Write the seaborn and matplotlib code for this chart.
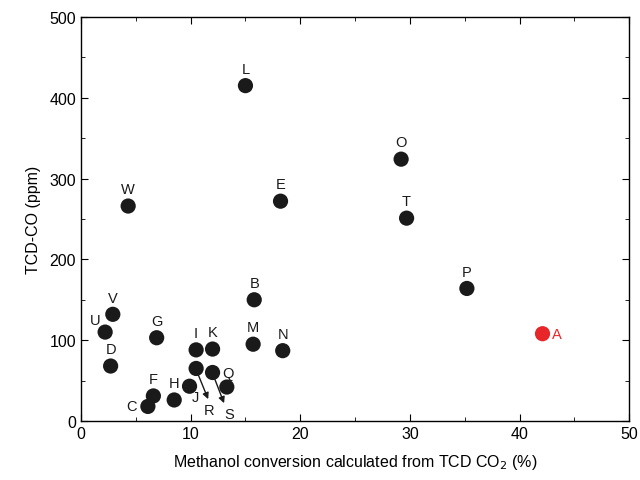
import numpy as np
import pandas as pd
import matplotlib
matplotlib.use("Agg")
import matplotlib.pyplot as plt
import seaborn as sns

labels = ["L", "O", "T", "E", "W", "B", "P", "A", "V", "U", "G", "D", "I", "K",
          "M", "N", "R", "S", "J", "Q", "H", "F", "C"]
conversion = [15.0, 29.2, 29.7, 18.2, 4.3, 15.8, 35.2, 42.1, 2.9, 2.2, 6.9, 2.7, 10.5, 12.0,
              15.7, 18.4, 10.5, 12.0, 9.9, 13.3, 8.5, 6.6, 6.1]
tcd_co = [415, 324, 251, 272, 266, 150, 164, 108, 132, 110, 103, 68, 88, 89,
          95, 87, 65, 60, 43, 42, 26, 31, 18]
# label offsets in points (dx, dy), centred
offsets = {"A": (10, 0), "U": (-7, 9), "C": (-12, 0), "J": (4, -8),
           "Q": (1, 10), "R": (9, -30), "S": (12, -30)}
arrow_ends = {"R": (11.6, 27), "S": (13.05, 22)}

df = pd.DataFrame({"label": labels, "x": conversion, "y": tcd_co})
df["grp"] = np.where(df["label"] == "A", "red", "black")

sns.set_style("ticks")
plt.rcParams["font.family"] = ["Liberation Sans", "DejaVu Sans"]
plt.rcParams["text.color"] = "black"
plt.rcParams["axes.labelcolor"] = "black"
plt.rcParams["xtick.color"] = "black"
plt.rcParams["ytick.color"] = "black"
plt.rcParams["axes.edgecolor"] = "black"

fig = plt.figure(figsize=(6.4, 4.81), dpi=100)
ax = fig.add_axes([0.1266, 0.1227, 0.8564, 0.84])
sns.scatterplot(data=df, x="x", y="y", hue="grp",
                palette={"black": "#1a1a1a", "red": "#e8262a"},
                s=120, edgecolor="none", legend=False, ax=ax, zorder=3)

for lab, x, y in zip(labels, conversion, tcd_co):
    dx, dy = offsets.get(lab, (0, 7))
    col = "#e8262a" if lab == "A" else "#1a1a1a"
    ax.annotate(lab, (x, y), xytext=(dx, dy), textcoords="offset points",
                ha="center", va="bottom" if lab not in offsets else "center",
                fontsize=10.5, color=col)

for lab, (ex, ey) in arrow_ends.items():
    i = labels.index(lab)
    ax.annotate("", xy=(ex, ey), xytext=(conversion[i] + 0.2, tcd_co[i] - 8),
                arrowprops=dict(arrowstyle="-|>", color="#1a1a1a", lw=1.0,
                                mutation_scale=9, shrinkA=0, shrinkB=0))

ax.set_xlim(0, 50)
ax.set_ylim(0, 500)
ax.set_xticks(range(0, 51, 10))
ax.set_xticks(range(5, 50, 10), minor=True)
ax.set_yticks(range(0, 501, 100))
ax.set_yticks(range(50, 500, 100), minor=True)
ax.tick_params(which="both", direction="in", top=True, right=True, labelsize=11.5)
ax.tick_params(which="major", length=5)
ax.tick_params(which="minor", length=3)
for sp in ax.spines.values():
    sp.set_visible(True)
    sp.set_linewidth(1.0)
ax.set_xlabel("Methanol conversion calculated from TCD CO$_\\mathit{2}$ (%)", fontsize=11.5, labelpad=8)
ax.set_ylabel("TCD-CO (ppm)", fontsize=11.5, labelpad=6)

fig.savefig("out.png", dpi=100)
